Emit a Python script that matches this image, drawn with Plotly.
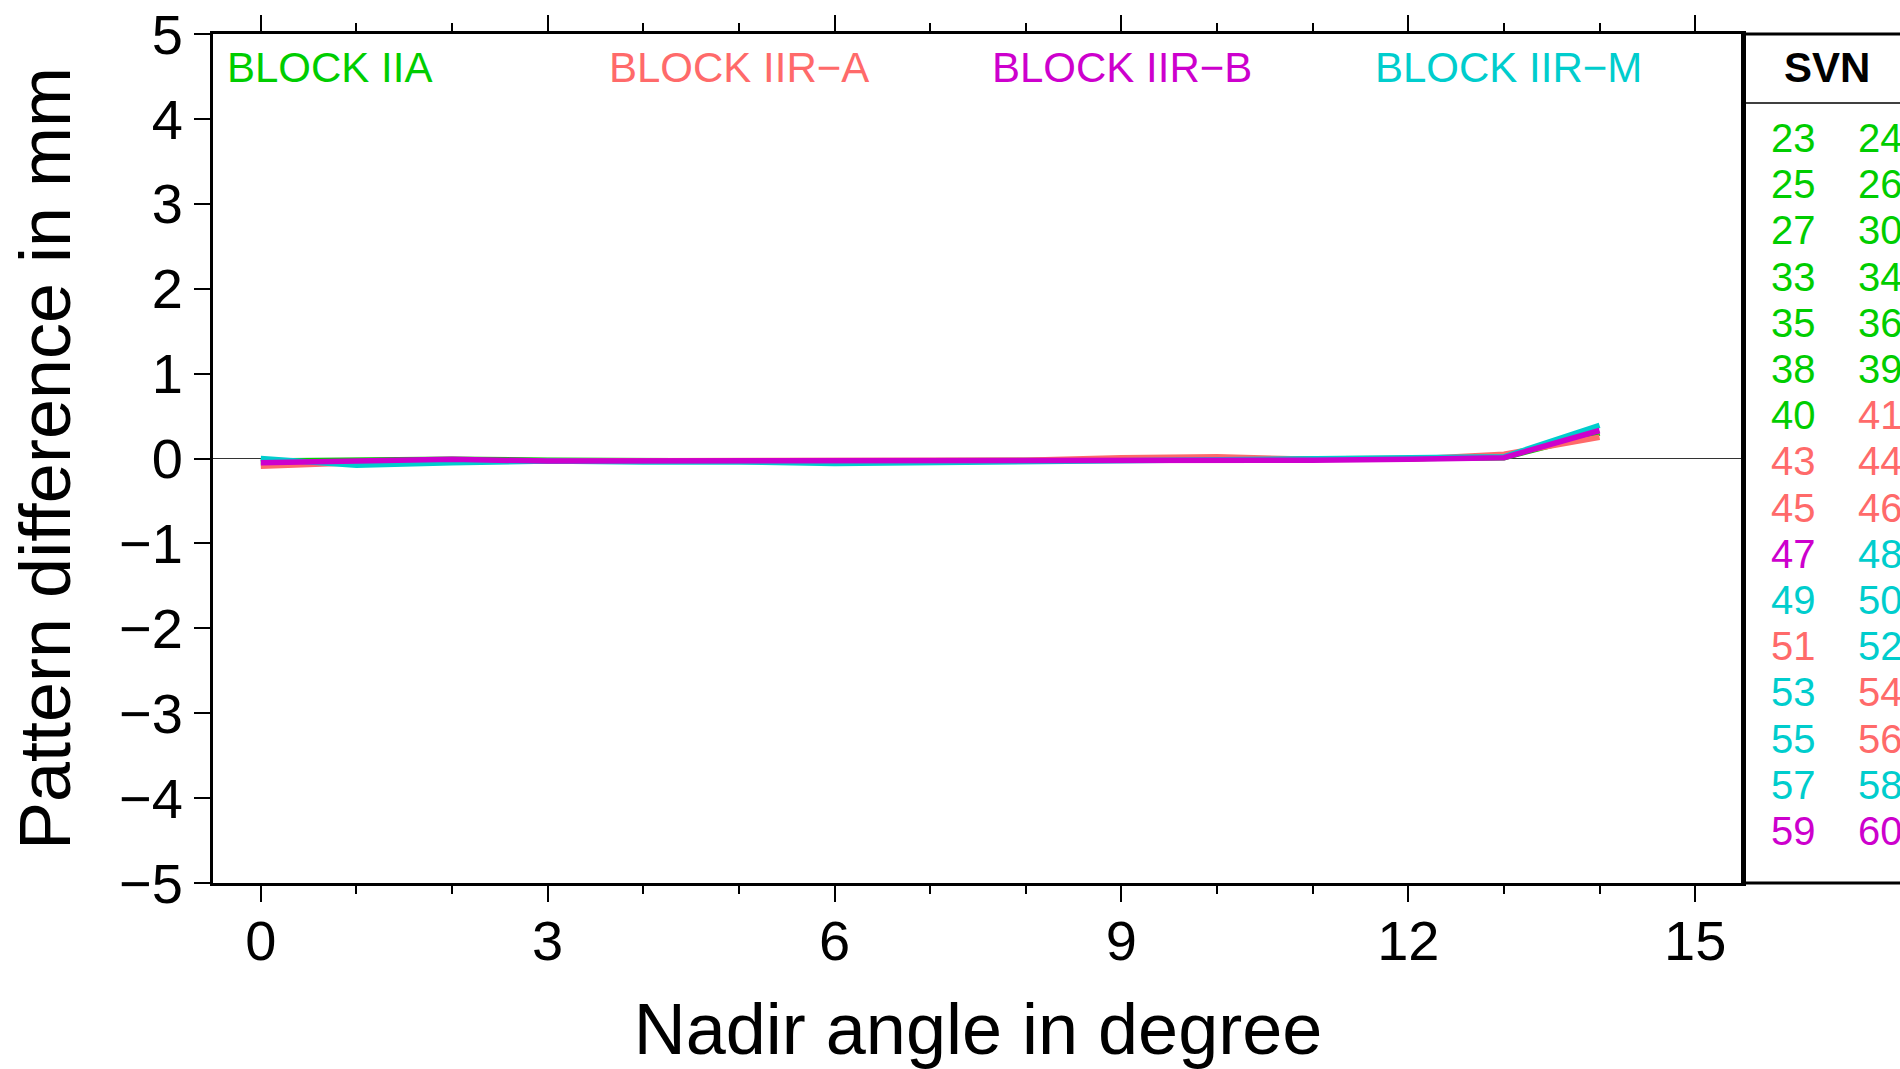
import plotly.graph_objects as go

# ---------------- data ----------------
nadir_deg = list(range(15))

block_names = ["BLOCK IIA", "BLOCK IIR−A", "BLOCK IIR−B", "BLOCK IIR−M"]
block_colors = ["#00CD00", "#FF6A6A", "#CD00CD", "#00CDCD"]

diff_IIA = [-0.03, -0.02, -0.01, -0.02, -0.03, -0.03, -0.03, -0.03, -0.03, -0.02, -0.01, -0.01, 0.00, 0.01, 0.30]
diff_IIR_A = [-0.09, -0.05, -0.03, -0.03, -0.03, -0.03, -0.02, -0.03, -0.02, 0.01, 0.02, -0.01, -0.01, 0.05, 0.25]
diff_IIR_B = [-0.05, -0.03, -0.01, -0.03, -0.03, -0.03, -0.03, -0.03, -0.03, -0.02, -0.02, -0.02, -0.01, 0.01, 0.33]
diff_IIR_M = [0.00, -0.08, -0.05, -0.03, -0.04, -0.04, -0.06, -0.05, -0.04, -0.03, -0.02, -0.01, 0.01, 0.02, 0.39]
block_series = [diff_IIA, diff_IIR_A, diff_IIR_B, diff_IIR_M]
draw_order = [0, 1, 3, 2]

svn_col1 = [23, 25, 27, 33, 35, 38, 40, 43, 45, 47, 49, 51, 53, 55, 57, 59]
svn_col1_block = [0, 0, 0, 0, 0, 0, 0, 1, 1, 2, 3, 1, 3, 3, 3, 2]
svn_col2 = [24, 26, 30, 34, 36, 39, 41, 44, 46, 48, 50, 52, 54, 56, 58, 60]
svn_col2_block = [0, 0, 0, 0, 0, 0, 1, 1, 1, 3, 3, 3, 1, 1, 3, 2]

x_ticks = [0, 3, 6, 9, 12, 15]
y_ticks = [-5, -4, -3, -2, -1, 0, 1, 2, 3, 4, 5]

# ---------------- layout geometry (pixels) ----------------
W, H = 1900, 1069
L, R, T, B = 213, 1743, 34, 883
FONT = "Liberation Sans, Arial, Helvetica, sans-serif"


def px(x):
    return (x - L) / (R - L)


def py(y):
    return (B - y) / (B - T)


fig = go.Figure()
for i in draw_order:
    fig.add_trace(go.Scatter(
        x=nadir_deg, y=block_series[i], mode="lines",
        line=dict(color=block_colors[i], width=5.5),
        name=block_names[i], showlegend=False,
    ))

annotations = []
# block labels inside plot
block_label_px = [225, 607, 990, 1373]
for name, col, xp in zip(block_names, block_colors, block_label_px):
    annotations.append(dict(
        text=name, x=px(xp), y=py(68), xref="paper", yref="paper",
        xanchor="left", yanchor="middle", showarrow=False,
        font=dict(family=FONT, size=42, color=col),
    ))

# SVN table
annotations.append(dict(
    text="<b>SVN</b>", x=px(1827), y=py(68), xref="paper", yref="paper",
    xanchor="center", yanchor="middle", showarrow=False,
    font=dict(family=FONT, size=42, color="black"),
))
row0, drow = 138, 46.2
for k in range(len(svn_col1)):
    yy = py(row0 + k * drow)
    annotations.append(dict(
        text=str(svn_col1[k]), x=px(1793), y=yy, xref="paper", yref="paper",
        xanchor="center", yanchor="middle", showarrow=False,
        font=dict(family=FONT, size=40, color=block_colors[svn_col1_block[k]]),
    ))
    annotations.append(dict(
        text=str(svn_col2[k]), x=px(1856), y=yy, xref="paper", yref="paper",
        xanchor="left", yanchor="middle", showarrow=False,
        font=dict(family=FONT, size=40, color=block_colors[svn_col2_block[k]]),
    ))

shapes = [
    dict(type="line", xref="paper", yref="paper", x0=px(R), x1=px(W + 5), y0=1, y1=1,
         line=dict(color="black", width=3)),
    dict(type="line", xref="paper", yref="paper", x0=px(R), x1=px(W + 5), y0=0, y1=0,
         line=dict(color="black", width=3)),
    dict(type="line", xref="paper", yref="paper", x0=px(R), x1=px(W + 5), y0=py(103), y1=py(103),
         line=dict(color="black", width=1.5)),
    dict(type="line", xref="paper", yref="paper", x0=1, x1=1, y0=0, y1=1,
         line=dict(color="black", width=4)),
]

fig.update_layout(
    width=W, height=H,
    margin=dict(l=L, r=W - R, t=T, b=H - B, autoexpand=False),
    paper_bgcolor="white", plot_bgcolor="white",
    font=dict(family=FONT, color="black"),
    showlegend=False,
    annotations=annotations,
    shapes=shapes,
    xaxis=dict(
        range=[-0.5, 15.5], tickmode="array", tickvals=x_ticks,
        ticks="outside", ticklen=16, tickwidth=2, tickcolor="black",
        minor=dict(dtick=1, tick0=0, ticks="outside", ticklen=8, tickwidth=2, tickcolor="black"),
        showline=True, linewidth=3, linecolor="black", mirror="ticks",
        showgrid=False, zeroline=False,
        tickfont=dict(family=FONT, size=56, color="black"),
        ticklabelstandoff=-9,
        title=dict(text="Nadir angle in degree", font=dict(family=FONT, size=72, color="black"), standoff=34),
        automargin=False,
    ),
    yaxis=dict(
        range=[-5, 5], tickmode="array", tickvals=y_ticks,
        ticks="outside", ticklen=16, tickwidth=2, tickcolor="black",
        showline=True, linewidth=3, linecolor="black", mirror=True,
        showgrid=False, zeroline=True, zerolinecolor="#333333", zerolinewidth=1,
        tickfont=dict(family=FONT, size=56, color="black"),
        title=dict(text="Pattern difference in mm", font=dict(family=FONT, size=72, color="black"), standoff=25),
        automargin=False,
    ),
)

fig.write_html("out.html")
